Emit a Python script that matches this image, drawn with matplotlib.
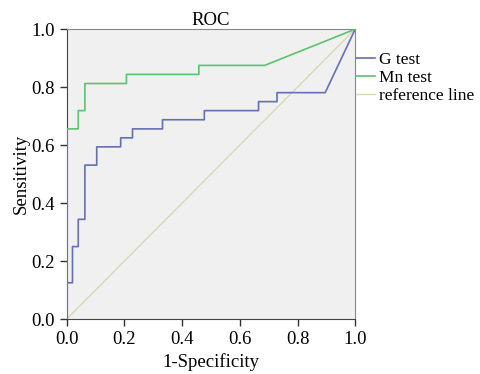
import matplotlib
matplotlib.use("Agg")
import matplotlib.pyplot as plt

plt.rcParams['font.family'] = ['Liberation Serif', 'DejaVu Serif']

# ROC points (1-specificity, sensitivity)
g_fpr = [0.0, 0.0, 0.02, 0.02, 0.04, 0.04, 0.063, 0.063, 0.104, 0.104, 0.187, 0.187,
         0.228, 0.228, 0.332, 0.332, 0.477, 0.477, 0.665, 0.665, 0.729, 0.729, 0.896, 1.0]
g_tpr = [0.0, 0.125, 0.125, 0.25, 0.25, 0.344, 0.344, 0.531, 0.531, 0.594, 0.594, 0.625,
         0.625, 0.656, 0.656, 0.6875, 0.6875, 0.719, 0.719, 0.75, 0.75, 0.781, 0.781, 1.0]

mn_fpr = [0.0, 0.0, 0.04, 0.04, 0.063, 0.063, 0.207, 0.207, 0.458, 0.458, 0.686, 1.0]
mn_tpr = [0.0, 0.656, 0.656, 0.719, 0.719, 0.8125, 0.8125, 0.844, 0.844, 0.875, 0.875, 1.0]

ref = [0.0, 1.0]
ticks = [0.0, 0.2, 0.4, 0.6, 0.8, 1.0]

fig = plt.figure(figsize=(4.8, 3.74), dpi=100)
ax = fig.add_axes([0.139, 0.147, 0.601, 0.775])
ax.set_facecolor('#f0f0f0')

ax.plot(ref, ref, color='#d8d8b4', lw=1.0, label='reference line', zorder=1)
ax.plot(g_fpr, g_tpr, color='#6470b2', lw=1.2, label='G test', zorder=2)
ax.plot(mn_fpr, mn_tpr, color='#5cc26c', lw=1.2, label='Mn test', zorder=3)

ax.set_xlim(0, 1)
ax.set_ylim(0, 1)
ax.set_xticks(ticks)
ax.set_yticks(ticks)
ax.set_xticklabels(['%.1f' % t for t in ticks])
ax.set_yticklabels(['%.1f' % t for t in ticks])
ax.tick_params(direction='out', length=5, width=1, labelsize=13.5, colors='#333333',
               labelcolor='black')
for s in ['left', 'bottom']:
    ax.spines[s].set_color('#444444')
for s in ['top', 'right']:
    ax.spines[s].set_color('#888888')

ax.set_title('ROC', fontsize=13.5, pad=1)
ax.set_xlabel('1-Specificity', fontsize=13.5, labelpad=4)
ax.set_ylabel('Sensitivity', fontsize=13.5, labelpad=1)

h, l = ax.get_legend_handles_labels()
order = [1, 2, 0]
ax.legend([h[i] for i in order], [l[i] for i in order], loc='upper left',
          bbox_to_anchor=(1.003, 0.922), frameon=False, fontsize=12.5,
          handlelength=1.1, handletextpad=0.2, labelspacing=0.1, borderaxespad=0,
          borderpad=0)

fig.savefig('out.png', dpi=100)
